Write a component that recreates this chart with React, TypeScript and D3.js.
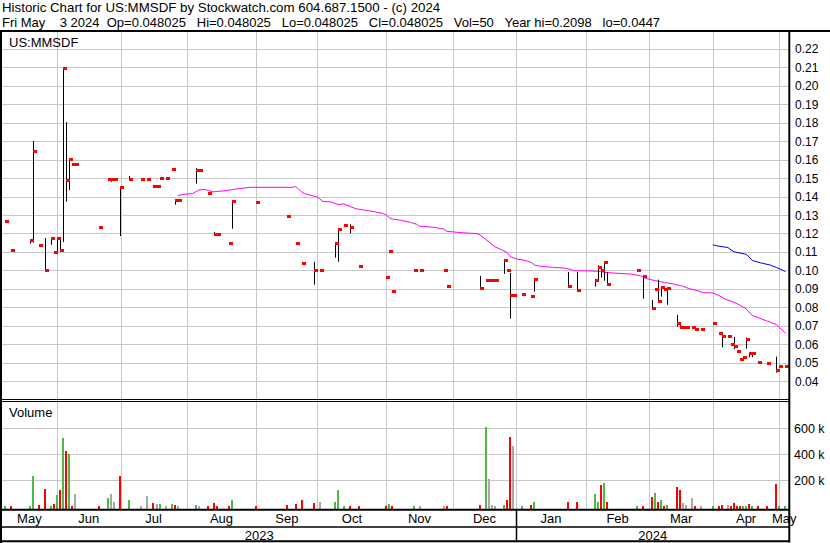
import { useEffect, useRef } from "react"
import * as d3 from "d3"

// Daily trades (only days with a trade are listed)
const tradeDates = [
  "2023-05-09", "2023-05-11", "2023-05-19", "2023-05-22", "2023-05-24", "2023-05-26", "2023-05-30", "2023-05-31",
  "2023-06-01", "2023-06-02", "2023-06-05", "2023-06-06", "2023-06-07", "2023-06-08", "2023-06-09", "2023-06-21",
  "2023-06-26", "2023-06-27", "2023-06-28", "2023-06-30", "2023-07-05", "2023-07-11", "2023-07-13", "2023-07-17",
  "2023-07-18", "2023-07-19", "2023-07-21", "2023-07-25", "2023-07-26", "2023-07-27", "2023-08-04", "2023-08-07",
  "2023-08-10", "2023-08-14", "2023-08-15", "2023-08-21", "2023-08-22", "2023-09-01", "2023-09-15", "2023-09-20",
  "2023-09-22", "2023-09-28", "2023-10-02", "2023-10-09", "2023-10-10", "2023-10-12", "2023-10-16", "2023-10-19",
  "2023-11-01", "2023-11-02", "2023-11-03", "2023-11-14", "2023-11-16", "2023-11-28", "2023-11-29", "2023-12-14",
  "2023-12-18", "2023-12-19", "2023-12-20", "2023-12-21", "2023-12-26", "2023-12-27", "2023-12-28", "2023-12-29",
  "2024-01-03", "2024-01-08", "2024-01-09", "2024-01-24", "2024-01-29", "2024-02-06", "2024-02-07", "2024-02-08",
  "2024-02-09", "2024-02-12", "2024-02-26", "2024-02-28", "2024-03-04", "2024-03-05", "2024-03-06", "2024-03-07",
  "2024-03-08", "2024-03-11", "2024-03-14", "2024-03-15", "2024-03-18", "2024-03-19", "2024-03-21", "2024-03-22",
  "2024-03-26", "2024-04-01", "2024-04-03", "2024-04-04", "2024-04-08", "2024-04-09", "2024-04-10", "2024-04-11",
  "2024-04-12", "2024-04-15", "2024-04-16", "2024-04-17", "2024-04-18", "2024-04-22", "2024-04-25", "2024-04-30",
  "2024-05-01", "2024-05-03",
]
const highs = [
  0.127, 0.111, 0.1169, 0.1701, 0.1139, 0.1175, 0.1181, 0.110,
  0.1181, 0.1175, 0.2100, 0.1804, 0.1607, 0.1578, 0.1578, 0.1237,
  0.1497, 0.1497, 0.1497, 0.145, 0.1511, 0.1497, 0.1497, 0.1459,
  0.1459, 0.1502, 0.1502, 0.1551, 0.1387, 0.1383, 0.1555, 0.1545,
  0.1418, 0.1208, 0.1196, 0.115, 0.1381, 0.1372, 0.1296, 0.115,
  0.1042, 0.1046, 0.1, 0.1154, 0.1228, 0.1248, 0.125, 0.1026,
  0.0966, 0.1107, 0.089, 0.1, 0.1, 0.1, 0.0916, 0.097,
  0.095, 0.095, 0.095, 0.095, 0.1062, 0.1, 0.0986, 0.0867,
  0.0872, 0.0862, 0.0957, 0.0991, 0.0991, 0.0948, 0.1028, 0.1001,
  0.1051, 0.0991, 0.1, 0.0974, 0.084, 0.0901, 0.095, 0.0909,
  0.0901, 0.0909, 0.0759, 0.0721, 0.0694, 0.0697, 0.0694, 0.0685,
  0.0685, 0.0717, 0.0663, 0.0663, 0.0647, 0.0603, 0.064, 0.0565,
  0.0522, 0.0533, 0.0636, 0.0557, 0.0557, 0.0506, 0.0503, 0.0533,
  0.0479, 0.048025,
]
const lows = [
  0.127, 0.111, 0.1145, 0.115, 0.1139, 0.1003, 0.1139, 0.110,
  0.109, 0.1111, 0.1154, 0.1372, 0.1435, 0.1578, 0.1578, 0.1237,
  0.1497, 0.148, 0.1497, 0.1186, 0.1497, 0.1497, 0.1497, 0.1459,
  0.1459, 0.1502, 0.1502, 0.1551, 0.1356, 0.1383, 0.147, 0.1545,
  0.1418, 0.1196, 0.1196, 0.115, 0.1226, 0.1372, 0.1296, 0.115,
  0.1042, 0.0923, 0.1, 0.1069, 0.1047, 0.1248, 0.1201, 0.1026,
  0.0966, 0.1107, 0.089, 0.1, 0.1, 0.1, 0.0916, 0.0906,
  0.095, 0.095, 0.095, 0.095, 0.0981, 0.1, 0.0739, 0.0867,
  0.0872, 0.0862, 0.0885, 0.0916, 0.0894, 0.0912, 0.0944, 0.0961,
  0.0944, 0.0927, 0.1, 0.0847, 0.0795, 0.0901, 0.0829, 0.0858,
  0.0901, 0.0814, 0.0695, 0.0692, 0.0694, 0.069, 0.0694, 0.0685,
  0.0685, 0.0717, 0.0663, 0.0584, 0.0647, 0.0603, 0.0573, 0.0565,
  0.0522, 0.0533, 0.0576, 0.053, 0.053, 0.0506, 0.0501, 0.0446,
  0.0479, 0.048025,
]
const closes = [
  0.127, 0.111, 0.1167, 0.1648, 0.1139, 0.1003, 0.1175, 0.110,
  0.1175, 0.1112, 0.2098, 0.1491, 0.1605, 0.1578, 0.1578, 0.1237,
  0.1497, 0.1497, 0.1497, 0.1449, 0.1497, 0.1497, 0.1497, 0.1459,
  0.1459, 0.1502, 0.1502, 0.1551, 0.1383, 0.1383, 0.1545, 0.1545,
  0.1418, 0.1199, 0.1196, 0.115, 0.1378, 0.1372, 0.1296, 0.115,
  0.1042, 0.1, 0.1, 0.115, 0.1226, 0.1248, 0.1237, 0.1026,
  0.0966, 0.1107, 0.089, 0.1, 0.1, 0.1, 0.0916, 0.0906,
  0.095, 0.095, 0.095, 0.095, 0.1058, 0.1, 0.0867, 0.0867,
  0.0872, 0.0862, 0.0953, 0.0916, 0.0894, 0.0948, 0.102, 0.1,
  0.1047, 0.0929, 0.1, 0.0971, 0.0797, 0.0901, 0.0832, 0.0909,
  0.0901, 0.0906, 0.0717, 0.0694, 0.0694, 0.0694, 0.0694, 0.0685,
  0.0685, 0.0717, 0.0663, 0.0647, 0.0647, 0.0603, 0.0592, 0.0565,
  0.0522, 0.0533, 0.0631, 0.0553, 0.0555, 0.0506, 0.0501, 0.0462,
  0.048, 0.048025,
]
const volumes = [
  2000, 2000, 3000, 235000, 10000, 133000, 5000, 18000,
  87000, 125000, 528000, 425000, 402000, 3000, 95000, 2000,
  64000, 95000, 33000, 235000, 48000, 2000, 79000, 25000,
  18000, 18000, 2000, 18000, 8000, 3000, 10000, 2000,
  2000, 25000, 2000, 2000, 48000, 2000, 10000, 18000,
  48000, 25000, 33000, 33000, 125000, 5000, 5000, 3000,
  2000, 18000, 2000, 5000, 2000, 2000, 2000, 10000,
  610000, 210000, 8000, 2000, 10000, 48000, 533000, 464000,
  2000, 10000, 33000, 33000, 33000, 95000, 33000, 164000,
  180000, 33000, 2000, 3000, 71000, 102000, 33000, 48000,
  3000, 10000, 152000, 125000, 25000, 10000, 64000, 3000,
  3000, 2000, 3000, 10000, 10000, 3000, 25000, 3000,
  3000, 3000, 3000, 18000, 3000, 3000, 3000, 171000,
  3000, 50,
]

// Moving averages
const maShortDates = [
  "2023-07-27", "2023-07-31", "2023-08-03", "2023-08-04", "2023-08-07", "2023-08-09", "2023-08-10", "2023-08-14",
  "2023-08-15", "2023-08-17", "2023-08-22", "2023-08-24", "2023-08-30", "2023-09-19", "2023-09-20", "2023-09-21",
  "2023-09-22", "2023-09-25", "2023-09-27", "2023-09-29", "2023-10-02", "2023-10-03", "2023-10-06", "2023-10-10",
  "2023-10-12", "2023-10-16", "2023-10-18", "2023-10-23", "2023-10-26", "2023-10-31", "2023-11-01", "2023-11-02",
  "2023-11-03", "2023-11-08", "2023-11-13", "2023-11-15", "2023-11-16", "2023-11-23", "2023-11-28", "2023-11-29",
  "2023-12-06", "2023-12-13", "2023-12-14", "2023-12-19", "2023-12-21", "2023-12-25", "2023-12-27", "2023-12-28",
  "2024-01-01", "2024-01-04", "2024-01-08", "2024-01-09", "2024-01-11", "2024-01-17", "2024-01-23", "2024-01-25",
  "2024-01-26", "2024-02-02", "2024-02-08", "2024-02-09", "2024-02-15", "2024-02-22", "2024-02-27", "2024-02-29",
  "2024-03-05", "2024-03-08", "2024-03-13", "2024-03-18", "2024-03-20", "2024-03-25", "2024-03-27", "2024-04-01",
  "2024-04-03", "2024-04-05", "2024-04-09", "2024-04-11", "2024-04-16", "2024-04-18", "2024-04-23", "2024-04-25",
  "2024-04-30", "2024-05-01", "2024-05-03",
]
const maShortValues = [
  0.1405, 0.1412, 0.1416, 0.1426, 0.1435, 0.1439, 0.1433, 0.1425,
  0.1428, 0.1430, 0.1437, 0.1442, 0.1450, 0.1450, 0.1454, 0.1440,
  0.1425, 0.1415, 0.1407, 0.1398, 0.1387, 0.1374, 0.1370, 0.1357,
  0.1360, 0.1346, 0.1334, 0.1326, 0.1318, 0.1308, 0.1300, 0.1285,
  0.1278, 0.1271, 0.1260, 0.1250, 0.1240, 0.1233, 0.1224, 0.1212,
  0.1204, 0.1199, 0.1192, 0.1154, 0.1127, 0.1113, 0.1096, 0.1075,
  0.1062, 0.1054, 0.1043, 0.1029, 0.1022, 0.1017, 0.1012, 0.1005,
  0.0998, 0.0997, 0.0995, 0.0989, 0.0985, 0.0980, 0.0971, 0.0956,
  0.0944, 0.0935, 0.0926, 0.0915, 0.0902, 0.0890, 0.0879, 0.0878,
  0.0864, 0.0845, 0.0834, 0.0820, 0.0792, 0.0756, 0.0738, 0.0725,
  0.0707, 0.0692, 0.0660,
]
const maLongDates = [
  "2024-04-01", "2024-04-03", "2024-04-08", "2024-04-09", "2024-04-10", "2024-04-16", "2024-04-17", "2024-04-18",
  "2024-04-23", "2024-04-26", "2024-04-30", "2024-05-02", "2024-05-03",
]
const maLongValues = [
  0.1138, 0.1131, 0.1124, 0.1111, 0.1101, 0.1087, 0.1073, 0.1054,
  0.1040, 0.1029, 0.1016, 0.1002, 0.0993,
]

const priceTicks = [0.04, 0.05, 0.06, 0.07, 0.08, 0.09, 0.10, 0.11, 0.12, 0.13, 0.14, 0.15, 0.16, 0.17, 0.18, 0.19, 0.20, 0.21, 0.22]
const volumeTicks = [200000, 400000, 600000]
const monthStarts = [
  "2023-06-01", "2023-07-01", "2023-08-01", "2023-09-01", "2023-10-01", "2023-11-01",
  "2023-12-01", "2024-01-01", "2024-02-01", "2024-03-01", "2024-04-01", "2024-05-01",
]
const monthLabels = ["May", "Jun", "Jul", "Aug", "Sep", "Oct", "Nov", "Dec", "Jan", "Feb", "Mar", "Apr", "May"]
const yearLabels = ["2023", "2024"]

const headerLine1 = "Historic Chart for US:MMSDF by Stockwatch.com 604.687.1500 - (c) 2024"
const headerLine2 = "Fri May    3 2024  Op=0.048025   Hi=0.048025   Lo=0.048025   Cl=0.048025   Vol=50   Year hi=0.2098   lo=0.0447"

const FONT = "'Liberation Sans', Arial, sans-serif"
const GRID = "#c8c8c8"

const parse = d3.timeParse("%Y-%m-%d")
const origin = parse("2023-05-08") as Date

// position on a weekday axis, weekends sit just after Friday
const dayIndex = (s: string) => {
  const days = d3.timeDay.count(origin, parse(s) as Date)
  const dow = days % 7
  return Math.floor(days / 7) * 5 + (dow < 5 ? dow : 4 + (dow - 4) * 0.12)
}

export default function App() {
  const svgRef = useRef<SVGSVGElement>(null)

  useEffect(() => {
    const svg = d3.select(svgRef.current)
    svg.selectAll("*").remove()

    const left = 2
    const right = 789
    const priceTop = 32
    const priceBottom = 400
    const axisY = 509.7

    const x = d3.scaleLinear().domain([0, 259]).range([2.3, 785.4])
    const y = d3.scaleLinear().domain([0.04, 0.22]).range([381.2, 48.8])
    const yv = d3.scaleLinear().domain([0, 600000]).range([506.3, 428.3])

    svg.append("rect").attr("width", 830).attr("height", 543).attr("fill", "#ffffff")

    const defs = svg.append("defs")
    defs.append("clipPath").attr("id", "price-clip")
      .append("rect").attr("x", left).attr("y", priceTop).attr("width", right - left).attr("height", priceBottom - priceTop - 1)

    // Horizontal grid, price panel
    svg.append("g").selectAll("line").data(priceTicks).join("line")
      .attr("x1", left).attr("x2", right)
      .attr("y1", (d) => Math.round(y(d)) + 0.5).attr("y2", (d) => Math.round(y(d)) + 0.5)
      .attr("stroke", GRID)

    // Horizontal grid, volume panel
    svg.append("g").selectAll("line").data(volumeTicks).join("line")
      .attr("x1", left).attr("x2", right)
      .attr("y1", (d) => Math.round(yv(d)) + 0.5).attr("y2", (d) => Math.round(yv(d)) + 0.5)
      .attr("stroke", GRID)

    // Month gridlines
    const monthX = monthStarts.map((m) => x(dayIndex(m)))
    svg.append("g").selectAll("line").data(monthX).join("line")
      .attr("x1", (d) => Math.round(d) + 0.5).attr("x2", (d) => Math.round(d) + 0.5)
      .attr("y1", priceTop).attr("y2", axisY)
      .attr("stroke", GRID)

    // Moving averages
    const line = d3.line<[string, number]>()
      .x((d) => x(dayIndex(d[0])))
      .y((d) => y(d[1]))
    const ma = svg.append("g").attr("clip-path", "url(#price-clip)")
    ma.append("path")
      .attr("d", line(d3.zip(maShortDates, maShortValues) as [string, number][]))
      .attr("fill", "none").attr("stroke", "#ff00ff").attr("stroke-width", 1)
    ma.append("path")
      .attr("d", line(d3.zip(maLongDates, maLongValues) as [string, number][]))
      .attr("fill", "none").attr("stroke", "#0000ff").attr("stroke-width", 1)

    const trades = tradeDates.map((d, i) => ({
      xi: x(dayIndex(d)),
      hi: highs[i],
      lo: lows[i],
      close: closes[i],
      vol: volumes[i],
      prev: i > 0 ? closes[i - 1] : -1,
    }))

    // High-low lines
    const bars = svg.append("g").attr("clip-path", "url(#price-clip)")
    bars.selectAll("line").data(trades.filter((t) => t.hi > t.lo)).join("line")
      .attr("x1", (d) => Math.round(d.xi) + 0.5).attr("x2", (d) => Math.round(d.xi) + 0.5)
      .attr("y1", (d) => y(d.hi)).attr("y2", (d) => y(d.lo))
      .attr("stroke", "#000000").attr("stroke-width", 1)

    // Close ticks
    bars.selectAll("rect").data(trades).join("rect")
      .attr("x", (d) => Math.round(d.xi))
      .attr("y", (d) => Math.round(y(d.close)) - 1)
      .attr("width", 4).attr("height", 3)
      .attr("fill", "#ff0000")
      .attr("shape-rendering", "crispEdges")

    // Volume bars
    const volColor = (t: { close: number; prev: number }) =>
      t.close > t.prev ? "#50b848" : t.close < t.prev ? "#ff0000" : "#a8a8a8"
    svg.append("g").selectAll("rect").data(trades).join("rect")
      .attr("x", (d) => Math.round(d.xi) - 1)
      .attr("y", (d) => yv(d.vol))
      .attr("width", 2)
      .attr("height", (d) => axisY - yv(d.vol))
      .attr("fill", volColor)
      .attr("shape-rendering", "crispEdges")

    // Labels
    const text = (g: d3.Selection<SVGSVGElement | null, unknown, null, undefined>, tx: number, ty: number, s: string, anchor = "start", size = 13) =>
      g.append("text").attr("x", tx).attr("y", ty).attr("text-anchor", anchor)
        .attr("font-family", FONT).attr("font-size", size).attr("fill", "#000000")
        .attr("xml:space", "preserve").text(s)

    text(svg, 2, 11.5, headerLine1, "start", 13.3)
    text(svg, 2, 27, headerLine2, "start", 13)
    text(svg, 9, 47, "US:MMSDF")
    text(svg, 9, 417, "Volume")

    priceTicks.forEach((t) => text(svg, 795, y(t) + 4.5, d3.format(".2f")(t), "start", 12))
    volumeTicks.forEach((t) => text(svg, 794, yv(t) + 4.5, `${t / 1000} k`, "start", 12.5))

    const bounds = [left, ...monthX, right]
    monthLabels.forEach((m, i) => text(svg, (bounds[i] + bounds[i + 1]) / 2, 523, m, "middle"))

    const janX = monthX[7]
    text(svg, (left + janX) / 2, 539.5, yearLabels[0], "middle")
    text(svg, (janX + right) / 2, 539.5, yearLabels[1], "middle")

    // Frame
    const frame = svg.append("g").attr("stroke", "#000000").attr("fill", "none")
    frame.append("line").attr("x1", 0).attr("x2", 830).attr("y1", 31).attr("y2", 31).attr("stroke-width", 2)
    frame.append("line").attr("x1", 1).attr("x2", 1).attr("y1", 30).attr("y2", 543).attr("stroke-width", 2)
    frame.append("line").attr("x1", right + 0.3).attr("x2", right + 0.3).attr("y1", 30).attr("y2", 542.5).attr("stroke-width", 2)
    frame.append("line").attr("x1", 0).attr("x2", right).attr("y1", 399.5).attr("y2", 399.5).attr("stroke-width", 1)
    frame.append("line").attr("x1", 0).attr("x2", right).attr("y1", 401.5).attr("y2", 401.5).attr("stroke-width", 1)
    frame.append("line").attr("x1", 0).attr("x2", right).attr("y1", axisY).attr("y2", axisY).attr("stroke-width", 2)
    frame.append("line").attr("x1", 0).attr("x2", right).attr("y1", 527).attr("y2", 527).attr("stroke-width", 1.5)
    frame.append("line").attr("x1", 0).attr("x2", right).attr("y1", 541.3).attr("y2", 541.3).attr("stroke-width", 2)
    frame.append("line").attr("x1", Math.round(janX) + 0.5).attr("x2", Math.round(janX) + 0.5)
      .attr("y1", axisY).attr("y2", 541).attr("stroke-width", 1.5)
  }, [])

  return (
    <svg
      ref={svgRef}
      width={830}
      height={543}
      style={{ position: "absolute", left: 0, top: 0, display: "block" }}
    />
  )
}
